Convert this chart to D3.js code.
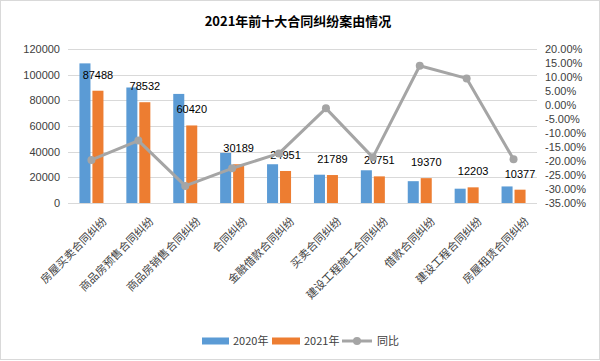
<!DOCTYPE html>
<html>
<head>
<meta charset="utf-8">
<script src="https://cdn.jsdelivr.net/npm/d3@7"></script>
<style>
    body { margin: 0; background: #fff; }
    svg { font-family: "Noto Sans CJK SC", "DejaVu Sans", sans-serif; }
    .grid line { stroke: #d9d9d9; }
    .axis text { fill: #404040; font-size: 11px; font-family: "Liberation Sans", "Noto Sans CJK SC", sans-serif; }
</style>
</head>
<body>
<svg id="chart"></svg>
<script>
const title = '2021年前十大合同纠纷案由情况';
const categories = ['房屋买卖合同纠纷', '商品房预售合同纠纷', '商品房销售合同纠纷', '合同纠纷', '金融借款合同纠纷',
    '买卖合同纠纷', '建设工程施工合同纠纷', '借款合同纠纷', '建设工程合同纠纷', '房屋租赁合同纠纷'];
const seriesNames = ['2020年', '2021年', '同比'];
const values2020 = [108800, 90000, 85000, 39000, 30200, 22050, 25500, 17000, 11150, 12900];
const values2021 = [87488, 78532, 60420, 30189, 24951, 21789, 20751, 19370, 12203, 10377];
const yoy = [-0.196, -0.127, -0.289, -0.226, -0.173, -0.012, -0.187, 0.14, 0.095, -0.194];
const leftTicks = [0, 20000, 40000, 60000, 80000, 100000, 120000];
const rightTicks = [-0.35, -0.30, -0.25, -0.20, -0.15, -0.10, -0.05, 0, 0.05, 0.10, 0.15, 0.20];

const width = 600, height = 361;
const plot = {left: 68, right: 537, top: 49, bottom: 203};
const colors = {blue: '#5b9bd5', orange: '#ed7d31', gray: '#a5a5a5'};

const svg = d3.select('#chart')
    .attr('width', width)
    .attr('height', height);

svg.append('rect')
    .attr('x', 0.5).attr('y', 0.5)
    .attr('width', width - 1).attr('height', height - 2)
    .attr('fill', '#fff')
    .attr('stroke', '#d9d9d9');

svg.append('text')
    .attr('x', 298).attr('y', 26)
    .attr('text-anchor', 'middle')
    .attr('font-size', 13)
    .attr('font-weight', 'bold')
    .attr('fill', '#000')
    .text(title);

const x = d3.scaleBand().domain(categories).range([plot.left, plot.right]);
const bw = x.bandwidth();
const x1 = d3.scaleBand().domain([0, 1]).range([bw / 2 - 12, bw / 2 + 12]).paddingInner(0.15);
const yLeft = d3.scaleLinear().domain([0, 120000]).range([plot.bottom, plot.top]);
const yRight = d3.scaleLinear().domain([-0.35, 0.2]).range([plot.bottom, plot.top]);

// gridlines
svg.append('g')
    .attr('class', 'grid')
    .selectAll('line')
    .data(leftTicks)
    .join('line')
    .attr('x1', plot.left).attr('x2', plot.right)
    .attr('y1', d => Math.round(yLeft(d)) + 0.5)
    .attr('y2', d => Math.round(yLeft(d)) + 0.5);

// left axis
const axisLeft = svg.append('g')
    .attr('class', 'axis')
    .attr('transform', `translate(${plot.left - 8},0)`)
    .call(d3.axisLeft(yLeft).tickValues(leftTicks).tickSize(0).tickPadding(0).tickFormat(d3.format('d')));
axisLeft.select('.domain').remove();

// right axis
const axisRight = svg.append('g')
    .attr('class', 'axis')
    .attr('transform', `translate(${plot.right + 8},0)`)
    .call(d3.axisRight(yRight).tickValues(rightTicks).tickSize(0).tickPadding(0)
        .tickFormat(d => (d * 100).toFixed(2) + '%'));
axisRight.select('.domain').remove();

// bars
const groups = svg.append('g')
    .selectAll('g')
    .data(categories)
    .join('g')
    .attr('transform', d => `translate(${x(d)},0)`);

groups.append('rect')
    .attr('x', x1(0))
    .attr('width', x1.bandwidth())
    .attr('y', (d, i) => yLeft(values2020[i]))
    .attr('height', (d, i) => plot.bottom - yLeft(values2020[i]))
    .attr('fill', colors.blue);

groups.append('rect')
    .attr('x', x1(1))
    .attr('width', x1.bandwidth())
    .attr('y', (d, i) => yLeft(values2021[i]))
    .attr('height', (d, i) => plot.bottom - yLeft(values2021[i]))
    .attr('fill', colors.orange);

// data labels above 2021 bars
groups.append('text')
    .attr('x', x1(1) + x1.bandwidth() / 2)
    .attr('y', (d, i) => yLeft(values2021[i]) - 12)
    .attr('text-anchor', 'middle')
    .attr('font-size', 11)
    .attr('font-family', '"Liberation Sans", sans-serif')
    .attr('fill', '#000')
    .text((d, i) => values2021[i]);

// x axis baseline
svg.append('line')
    .attr('x1', plot.left).attr('x2', plot.right)
    .attr('y1', plot.bottom + 0.5).attr('y2', plot.bottom + 0.5)
    .attr('stroke', '#d9d9d9');

// yoy line
const line = d3.line()
    .x((d, i) => x(categories[i]) + bw / 2)
    .y(d => yRight(d));

svg.append('path')
    .datum(yoy)
    .attr('d', line)
    .attr('fill', 'none')
    .attr('stroke', colors.gray)
    .attr('stroke-width', 3)
    .attr('stroke-linejoin', 'round');

svg.append('g')
    .selectAll('circle')
    .data(yoy)
    .join('circle')
    .attr('cx', (d, i) => x(categories[i]) + bw / 2)
    .attr('cy', d => yRight(d))
    .attr('r', 4)
    .attr('fill', colors.gray);

// category labels
svg.append('g')
    .selectAll('text')
    .data(categories)
    .join('text')
    .attr('transform', d => `translate(${x(d) + bw / 2 + 16},${plot.bottom + 19}) rotate(-45)`)
    .attr('text-anchor', 'end')
    .attr('font-size', 11)
    .attr('fill', '#404040')
    .text(d => d);

// legend
const legend = svg.append('g').attr('transform', 'translate(0,341)');
legend.append('rect').attr('x', 202).attr('y', -3.5).attr('width', 27).attr('height', 7).attr('fill', colors.blue);
legend.append('text').attr('x', 233).attr('y', 4).attr('font-size', 11).attr('fill', '#404040').text(seriesNames[0]);
legend.append('rect').attr('x', 272).attr('y', -3.5).attr('width', 28).attr('height', 7).attr('fill', colors.orange);
legend.append('text').attr('x', 304).attr('y', 4).attr('font-size', 11).attr('fill', '#404040').text(seriesNames[1]);
legend.append('line').attr('x1', 342).attr('x2', 372).attr('y1', 0).attr('y2', 0)
    .attr('stroke', colors.gray).attr('stroke-width', 3);
legend.append('circle').attr('cx', 357).attr('cy', 0).attr('r', 4).attr('fill', colors.gray);
legend.append('text').attr('x', 377).attr('y', 4).attr('font-size', 11).attr('fill', '#404040').text(seriesNames[2]);
</script>
</body>
</html>
